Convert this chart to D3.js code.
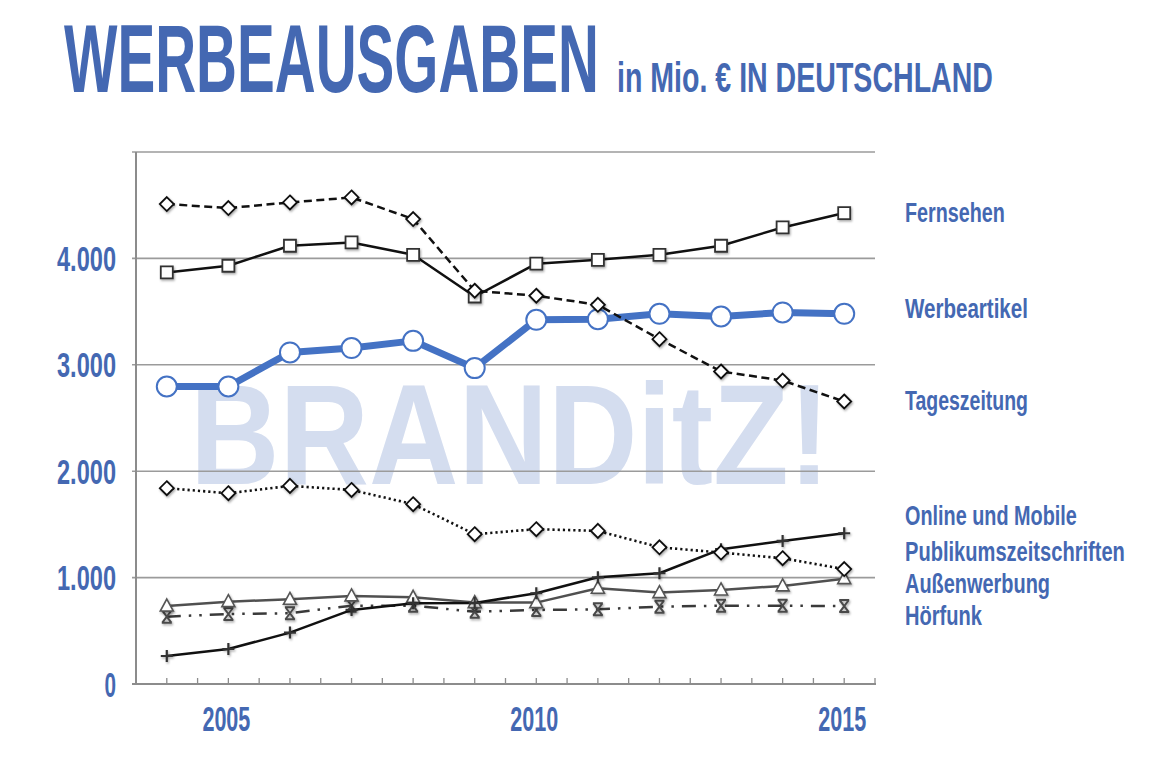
<!DOCTYPE html>
<html>
<head>
<meta charset="utf-8">
<script src="https://cdn.jsdelivr.net/npm/d3@7"></script>
<style>
  html, body { margin: 0; padding: 0; background: #ffffff; }
  svg { display: block; }
</style>
</head>
<body>
<script>
// ---------------- DATA ----------------
const years = [2004, 2005, 2006, 2007, 2008, 2009, 2010, 2011, 2012, 2013, 2014, 2015];
const fernsehen      = [3868, 3931, 4119, 4150, 4034, 3642, 3950, 3987, 4034, 4119, 4291, 4426];
const tageszeitung   = [4511, 4473, 4526, 4573, 4370, 3696, 3649, 3564, 3241, 2937, 2852, 2655];
const werbeartikel   = [2796, 2796, 3116, 3157, 3225, 2969, 3423, 3429, 3479, 3454, 3492, 3479];
const publikum       = [1840, 1793, 1862, 1824, 1690, 1408, 1455, 1439, 1285, 1235, 1182, 1080];
const onlineMobile   = [263, 329, 483, 696, 759, 762, 853, 1003, 1041, 1267, 1345, 1417];
const aussenwerbung  = [733, 774, 796, 828, 815, 765, 765, 900, 859, 884, 922, 990];
const hoerfunk       = [633, 658, 665, 736, 736, 680, 696, 702, 727, 736, 736, 732];
const seriesNames = ["Fernsehen", "Werbeartikel", "Tageszeitung", "Online und Mobile",
                     "Publikumszeitschriften", "Außenwerbung", "Hörfunk"];
const yTicks = [0, 1000, 2000, 3000, 4000];
const yGrid = [1000, 2000, 3000, 4000, 5000];
const xLabelYears = [2005, 2010, 2015];
const titleText = "WERBEAUSGABEN";
const subtitleText = "in Mio. € IN DEUTSCHLAND";
const watermarkText = "BRANDitZ!";

// ---------------- SETUP ----------------
const W = 1166, H = 770;
const BLUE = "#4468b2";
const FONT = "'Liberation Sans Narrow', 'Liberation Sans', Arial, sans-serif";

const svg = d3.select("body").append("svg").attr("width", W).attr("height", H);
svg.append("rect").attr("width", W).attr("height", H).attr("fill", "#ffffff");

const defs = svg.append("defs");
const f = defs.append("filter").attr("id", "shadow").attr("x", "-50%").attr("y", "-50%").attr("width", "200%").attr("height", "200%");
f.append("feDropShadow").attr("dx", 1).attr("dy", 1.5).attr("stdDeviation", 1.3)
  .attr("flood-color", "#000").attr("flood-opacity", 0.35);

const x = d3.scalePoint().domain(years).range([136, 875]).padding(0.5);
const y = d3.scaleLinear().domain([0, 5000]).range([684, 152]);

// condensed text: measure natural width, then squeeze horizontally to the target width
function ctext(g, str, px, py, size, width, anchor, color) {
  const t = g.append("text")
    .attr("x", 0).attr("y", 0)
    .attr("font-family", FONT).attr("font-weight", "bold")
    .attr("font-size", size)
    .attr("text-anchor", anchor || "start")
    .attr("fill", color || BLUE)
    .text(str);
  const natural = t.node().getComputedTextLength() || width;
  const sx = width / natural;
  t.attr("transform", `translate(${px},${py}) scale(${sx},1)`);
  return t;
}

// ---------------- TITLE ----------------
ctext(svg, titleText, 64, 92, 97, 535, "start");
ctext(svg, subtitleText, 617, 92, 42, 376, "start");

// ---------------- WATERMARK ----------------
ctext(svg, watermarkText, 190, 484, 142, 640, "start", "#d4ddef");

// ---------------- GRID & AXES ----------------
const grid = svg.append("g");
grid.selectAll("line.grid").data(yGrid).join("line")
  .attr("x1", 132).attr("x2", 875)
  .attr("y1", d => y(d)).attr("y2", d => y(d))
  .attr("stroke", "#9b9b9b").attr("stroke-width", 1.6);

// left axis
grid.append("line").attr("x1", 136).attr("x2", 136).attr("y1", y(5000)).attr("y2", y(0) + 1)
  .attr("stroke", "#8c8c8c").attr("stroke-width", 2);
// bottom axis
grid.append("line").attr("x1", 132).attr("x2", 876).attr("y1", y(0)).attr("y2", y(0))
  .attr("stroke", "#8c8c8c").attr("stroke-width", 2);

// x ticks at centers and half steps
const step = x.step();
const tickPos = [];
years.forEach(yr => { tickPos.push(x(yr)); tickPos.push(x(yr) + step / 2); });
grid.selectAll("line.xt").data(tickPos).join("line")
  .attr("x1", d => d).attr("x2", d => d)
  .attr("y1", y(0) - 6).attr("y2", y(0))
  .attr("stroke", "#8c8c8c").attr("stroke-width", 1.3);

// y labels
yTicks.forEach(v => {
  const label = v === 0 ? "0" : d3.format(",")(v).replace(/,/g, ".");
  const wdt = label.length === 1 ? 11.5 : 59;
  ctext(svg, label, 116, y(v) + 12.5, 35, wdt, "end");
});
// x labels
xLabelYears.forEach(yr => {
  ctext(svg, String(yr), x(yr) - 2, 731, 35, 48, "middle");
});

// ---------------- SERIES ----------------
const line = d3.line().x((d, i) => x(years[i])).y(d => y(d));

const markers = {
  square: "M-6,-6H6V6H-6Z",
  diamond: "M0,-7L7,0L0,7L-7,0Z",
  circle: "M-10,0A10,10 0 1,0 10,0A10,10 0 1,0 -10,0Z",
  triangle: "M0,-7L6.5,5L-6.5,5Z",
  plus: "M-6,0H6M0,-6V6",
  xmark: "M-5,-6H5M-5,6H5M-4.5,-6L4.5,6M4.5,-6L-4.5,6"
};

const series = [
  { name: seriesNames[1], values: werbeartikel, color: "#4472c4", width: 7, dash: null, marker: "circle", mFill: "#fff", mStroke: "#4472c4", mWidth: 2, shadow: false },
  { name: seriesNames[6], values: hoerfunk, color: "#3a3a3a", width: 2.5, dash: "14 8 2.5 8 2.5 8", marker: "xmark", mFill: "none", mStroke: "#4a4a4a", mWidth: 2, shadow: true },
  { name: seriesNames[5], values: aussenwerbung, color: "#505050", width: 2.5, dash: null, marker: "triangle", mFill: "#fff", mStroke: "#555", mWidth: 1.6, shadow: true },
  { name: seriesNames[3], values: onlineMobile, color: "#111", width: 2.5, dash: null, marker: "plus", mFill: "none", mStroke: "#333", mWidth: 2.2, shadow: true },
  { name: seriesNames[4], values: publikum, color: "#111", width: 2.6, dash: "2.2 3", marker: "diamond", mFill: "#fff", mStroke: "#111", mWidth: 1.8, shadow: true },
  { name: seriesNames[0], values: fernsehen, color: "#111", width: 2.5, dash: null, marker: "square", mFill: "#fff", mStroke: "#333", mWidth: 1.8, shadow: true },
  { name: seriesNames[2], values: tageszeitung, color: "#111", width: 2.5, dash: "8 4.5", marker: "diamond", mFill: "#fff", mStroke: "#111", mWidth: 1.8, shadow: true }
];

const plot = svg.append("g");
series.forEach(s => {
  const g = plot.append("g");
  g.append("path").attr("d", line(s.values))
    .attr("fill", "none").attr("stroke", s.color).attr("stroke-width", s.width)
    .attr("stroke-dasharray", s.dash).attr("stroke-linejoin", "round");
  g.selectAll("path.m").data(s.values).join("path")
    .attr("transform", (d, i) => `translate(${x(years[i])},${y(d)})`)
    .attr("d", markers[s.marker])
    .attr("fill", s.mFill).attr("stroke", s.mStroke).attr("stroke-width", s.mWidth)
    .attr("filter", s.shadow ? "url(#shadow)" : null);
});

// ---------------- LEGEND LABELS ----------------
const legendBaselines = [221.5, 318, 410, 525, 561, 593, 625];
const legendWidths = [100, 123, 123, 172, 220, 145, 77];
seriesNames.forEach((n, i) => {
  ctext(svg, n, 905, legendBaselines[i], 28, legendWidths[i], "start");
});
</script>
</body>
</html>
